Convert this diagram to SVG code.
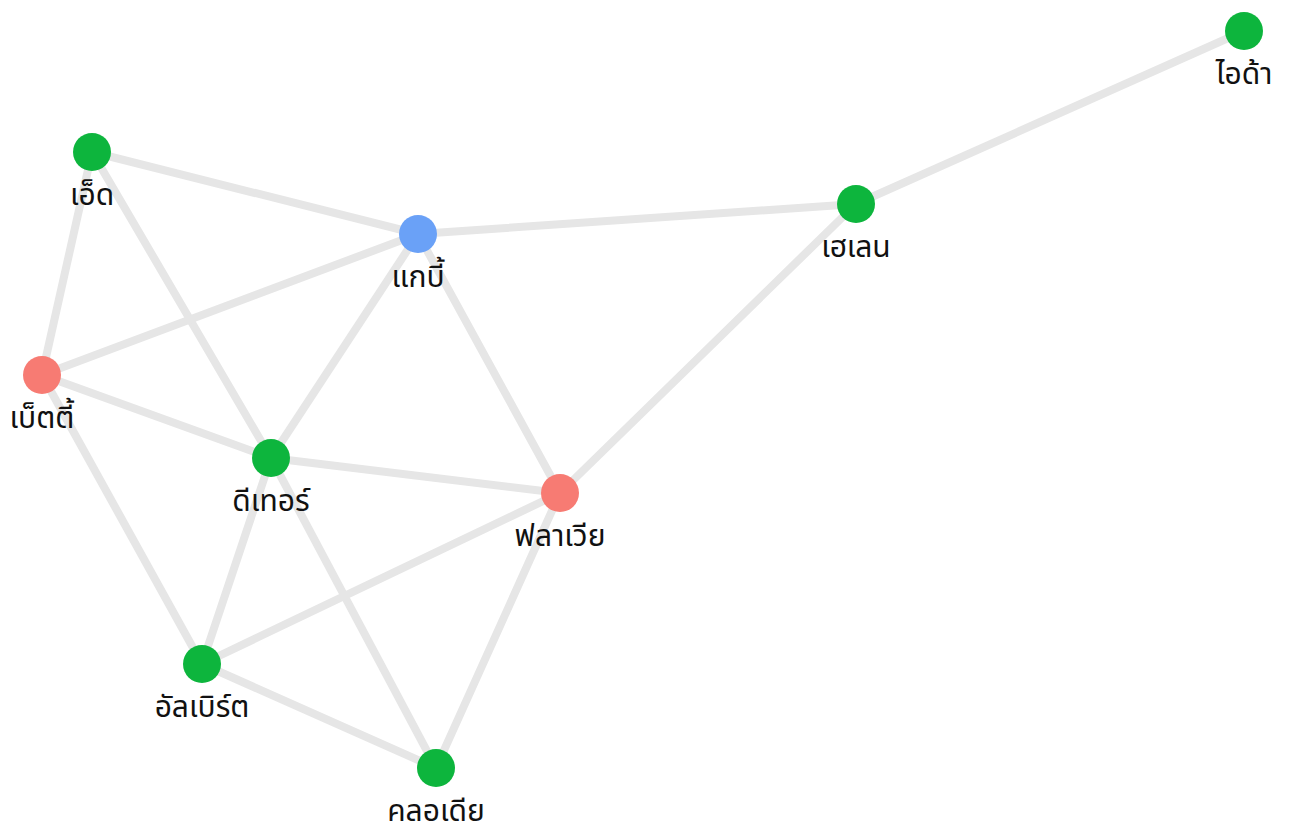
<svg xmlns="http://www.w3.org/2000/svg" width="1296" height="832" viewBox="0 0 1296 832">
<style>
.e{stroke:#e6e6e6;stroke-width:8;stroke-linecap:round}
.g{fill:#0db53d}.b{fill:#6aa1f7}.r{fill:#f77b73}
text{font-family:"Noto Sans","Noto Sans Thai","DejaVu Sans",sans-serif;font-size:30px;fill:#111;text-anchor:middle}
</style>
<rect width="1296" height="832" fill="#fff"/>
<g id="connectors">
<line class="e" x1="1244" y1="31" x2="856" y2="204"/>
<line class="e" x1="856" y1="204" x2="418" y2="234"/>
<line class="e" x1="856" y1="204" x2="560" y2="493"/>
<line class="e" x1="92" y1="152" x2="418" y2="234"/>
<line class="e" x1="92" y1="152" x2="42" y2="375"/>
<line class="e" x1="92" y1="152" x2="271" y2="458"/>
<line class="e" x1="418" y1="234" x2="42" y2="375"/>
<line class="e" x1="418" y1="234" x2="271" y2="458"/>
<line class="e" x1="418" y1="234" x2="560" y2="493"/>
<line class="e" x1="42" y1="375" x2="271" y2="458"/>
<line class="e" x1="42" y1="375" x2="202" y2="664"/>
<line class="e" x1="271" y1="458" x2="560" y2="493"/>
<line class="e" x1="271" y1="458" x2="202" y2="664"/>
<line class="e" x1="271" y1="458" x2="436" y2="768"/>
<line class="e" x1="560" y1="493" x2="202" y2="664"/>
<line class="e" x1="560" y1="493" x2="436" y2="768"/>
<line class="e" x1="202" y1="664" x2="436" y2="768"/>
</g>
<g id="ida"><circle class="g" cx="1244" cy="31" r="19"/><text x="1244" y="84">ไอด้า</text></g>
<g id="ed"><circle class="g" cx="92" cy="152" r="19"/><text x="92" y="205">เอ็ด</text></g>
<g id="gabi"><circle class="b" cx="418" cy="234" r="19"/><text x="418" y="287">แกบี้</text></g>
<g id="helen"><circle class="g" cx="856" cy="204" r="19"/><text x="856" y="257">เฮเลน</text></g>
<g id="betty"><circle class="r" cx="42" cy="375" r="19"/><text x="42" y="428">เบ็ตตี้</text></g>
<g id="dieter"><circle class="g" cx="271" cy="458" r="19"/><text x="271" y="511">ดีเทอร์</text></g>
<g id="flavia"><circle class="r" cx="560" cy="493" r="19"/><text x="560" y="546">ฟลาเวีย</text></g>
<g id="albert"><circle class="g" cx="202" cy="664" r="19"/><text x="202" y="717">อัลเบิร์ต</text></g>
<g id="claudia"><circle class="g" cx="436" cy="768" r="19"/><text x="436" y="821">คลอเดีย</text></g>
</svg>
